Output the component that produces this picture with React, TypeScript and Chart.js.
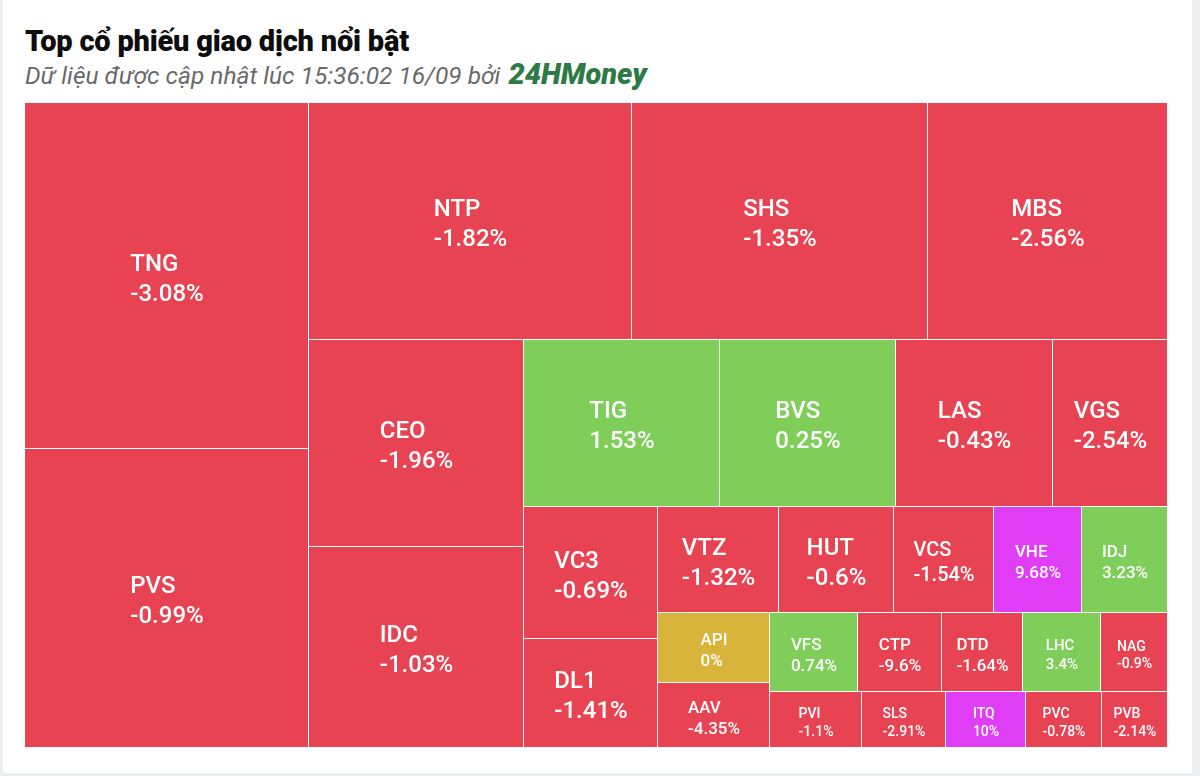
import React, { useEffect, useRef } from "react";
import { Chart, registerables } from "chart.js";

Chart.register(...registerables);

// ---- Data ----
const tickers = [
  "TNG", "PVS", "NTP", "SHS", "MBS", "CEO", "IDC", "TIG", "BVS", "LAS",
  "VGS", "VC3", "DL1", "VTZ", "HUT", "VCS", "VHE", "IDJ", "API", "AAV",
  "VFS", "CTP", "DTD", "LHC", "NAG", "PVI", "SLS", "ITQ", "PVC", "PVB",
];
const changes = [
  -3.08, -0.99, -1.82, -1.35, -2.56, -1.96, -1.03, 1.53, 0.25, -0.43,
  -2.54, -0.69, -1.41, -1.32, -0.6, -1.54, 9.68, 3.23, 0, -4.35,
  0.74, -9.6, -1.64, 3.4, -0.9, -1.1, -2.91, 10, -0.78, -2.14,
];
// relative trading value (tile area)
const tradeValues = [
  98.26, 84.92, 76.67, 69.92, 57.0, 44.61, 43.11, 32.75, 29.56, 26.25,
  19.31, 17.69, 14.66, 12.61, 12.1, 10.52, 9.25, 9.03, 7.84, 7.29,
  6.98, 6.65, 6.47, 6.19, 5.33, 5.16, 4.7, 4.49, 4.23, 3.7,
];

const TITLE = "Top cổ phiếu giao dịch nổi bật";
const SUBTITLE = "Dữ liệu được cập nhật lúc 15:36:02 16/09 bởi ";
const BRAND = "24HMoney";

const RED = "#E84353";
const GREEN = "#7ECE59";
const PURPLE = "#E03EF6";
const GOLD = "#D8B43B";
const CYAN = "#2EC8E6";

function colorFor(c: number): string {
  if (c >= 9.5) return PURPLE;
  if (c <= -9.9) return CYAN;
  if (c > 0) return GREEN;
  if (c === 0) return GOLD;
  return RED;
}

type Rect = { x: number; y: number; w: number; h: number };

// Squarified layout with alternating direction (low aspect ratio algorithm)
function squarified(values: number[], W: number, H: number): Rect[] {
  const total = values.reduce((a, b) => a + b, 0);
  const out: Rect[] = [];
  const plot = { x: 0, y: 0 };
  const ar = (w: number, h: number) => Math.max(w / h, h / w);
  const g: any = {
    width: W, height: H, dir: 0, total: 0,
    nW: 0, lW: 0, nH: 0, lH: 0, el: [] as number[],
    lp: { total: 0, lH: 0, nH: 0, lW: 0, nW: 0, nR: 0, lR: 0 },
  };
  const add = (el: number) => {
    g.lp.total = g.el[g.el.length - 1];
    g.total += el;
    if (g.dir === 0) {
      g.lW = g.nW;
      g.lp.lH = g.lp.total / g.lW;
      g.lp.lR = ar(g.lW, g.lp.lH);
      g.nW = g.total / g.height;
      g.lp.nH = g.lp.total / g.nW;
      g.lp.nR = ar(g.nW, g.lp.nH);
    } else {
      g.lH = g.nH;
      g.lp.lW = g.lp.total / g.lH;
      g.lp.lR = ar(g.lp.lW, g.lH);
      g.nH = g.total / g.width;
      g.lp.nW = g.lp.total / g.nH;
      g.lp.nR = ar(g.lp.nW, g.nH);
    }
    g.el.push(el);
  };
  const calc = (last: boolean) => {
    let gW = g.lW;
    let gH = g.lH;
    let keep = 0;
    if (last) {
      gW = g.nW;
      gH = g.nH;
    } else {
      keep = g.el[g.el.length - 1];
    }
    const end = g.el.length - 1;
    g.el.forEach((p: number, i: number) => {
      if (last || i < end) {
        if (g.dir === 0) {
          const pw = gW, ph = p / pw;
          out.push({ x: plot.x, y: plot.y, w: pw, h: ph });
          plot.y += ph;
        } else {
          const ph = gH, pw = p / ph;
          out.push({ x: plot.x, y: plot.y, w: pw, h: ph });
          plot.x += pw;
        }
      }
    });
    g.nW = 0; g.lW = 0; g.el = []; g.total = 0;
    if (g.dir === 0) g.width -= gW; else g.height -= gH;
    plot.y = H - g.height;
    plot.x = W - g.width;
    g.dir = 1 - g.dir;
    if (!last) add(keep);
  };
  values.forEach((v, i) => {
    add((W * H * v) / total);
    if (g.lp.nR > g.lp.lR) calc(false);
    if (i === values.length - 1) calc(true);
  });
  return out;
}

function labelSize(w: number, h: number): number {
  const s = Math.sqrt(w * h);
  if (s >= 108) return 24;
  if (s >= 100) return 20;
  if (s >= 79.5) return 17;
  if (s >= 75) return 15;
  return 14;
}

const treemapPlugin = {
  id: "treemapCells",
  beforeDatasetsDraw(chart: any) {
    const { ctx, chartArea, scales } = chart;
    const xs = scales.x;
    const ys = scales.y;
    const ratio = chartArea.width / chartArea.height;
    const W = 100 * ratio;
    const H = 100;
    const rects = squarified(tradeValues, W, H);
    ctx.save();
    rects.forEach((r, i) => {
      const x0 = Math.round(xs.getPixelForValue(r.x / ratio));
      const x1 = Math.round(xs.getPixelForValue((r.x + r.w) / ratio));
      const y0 = Math.round(ys.getPixelForValue(r.y));
      const y1 = Math.round(ys.getPixelForValue(r.y + r.h));
      ctx.fillStyle = colorFor(changes[i]);
      ctx.fillRect(x0, y0, x1 - x0 - 1, y1 - y0 - 1);

      const w = x1 - x0;
      const h = y1 - y0;
      const fs = labelSize(w, h);
      ctx.font = `500 ${fs}px Roboto, "Noto Sans", sans-serif`;
      ctx.fillStyle = "#ffffff";
      ctx.textBaseline = "middle";
      ctx.textAlign = "left";
      const l1 = tickers[i];
      const l2 = `${changes[i]}%`;
      const bw = Math.max(ctx.measureText(l1).width, ctx.measureText(l2).width);
      const cx = (x0 + x1) / 2;
      const cy = (y0 + y1) / 2 + 3.5;
      const lh = fs * 1.25;
      const lx = cx - bw / 2;
      ctx.fillText(l1, lx, cy - lh / 2);
      ctx.fillText(l2, lx, cy + lh / 2);
    });
    ctx.restore();
  },
};

export default function App() {
  const canvasRef = useRef<HTMLCanvasElement | null>(null);

  useEffect(() => {
    if (!canvasRef.current) return;
    const chart = new Chart(canvasRef.current, {
      type: "scatter",
      data: {
        datasets: [
          {
            label: "treemap",
            data: [],
            pointRadius: 0,
          },
        ],
      },
      options: {
        animation: false,
        responsive: true,
        maintainAspectRatio: false,
        layout: { padding: { left: 25, top: 103, right: 32, bottom: 28 } },
        plugins: {
          legend: { display: false },
          tooltip: { enabled: false },
          title: { display: false },
        },
        scales: {
          x: { type: "linear", min: 0, max: 100, display: false },
          y: { type: "linear", min: 0, max: 100, reverse: true, display: false },
        },
      },
      plugins: [treemapPlugin],
    });
    return () => chart.destroy();
  }, []);

  return (
    <div
      style={{
        position: "absolute",
        left: 0,
        top: 0,
        width: 1200,
        height: 776,
        background: "#eceef1",
        overflow: "hidden",
      }}
    >
      <div
        style={{
          position: "absolute",
          left: 3,
          top: -10,
          width: 1189,
          height: 783,
          background: "#ffffff",
        }}
      />
      <div
        style={{
          position: "absolute",
          left: 25,
          top: 24,
          font: "900 29px Roboto, 'Noto Sans', sans-serif",
          color: "#0d0d0d",
          whiteSpace: "nowrap",
          letterSpacing: "-0.2px",
        }}
      >
        {TITLE}
      </div>
      <div
        style={{
          position: "absolute",
          left: 25,
          top: 57,
          font: "italic 400 24.5px Roboto, 'Noto Sans', sans-serif",
          color: "#6a6a6a",
          whiteSpace: "nowrap",
        }}
      >
        {SUBTITLE}
        <span style={{ fontWeight: 900, fontSize: 29, color: "#2E7A46", marginLeft: 2 }}>{BRAND}</span>
      </div>
      <div style={{ position: "absolute", left: 0, top: 0, width: 1200, height: 776 }}>
        <canvas ref={canvasRef} />
      </div>
    </div>
  );
}
